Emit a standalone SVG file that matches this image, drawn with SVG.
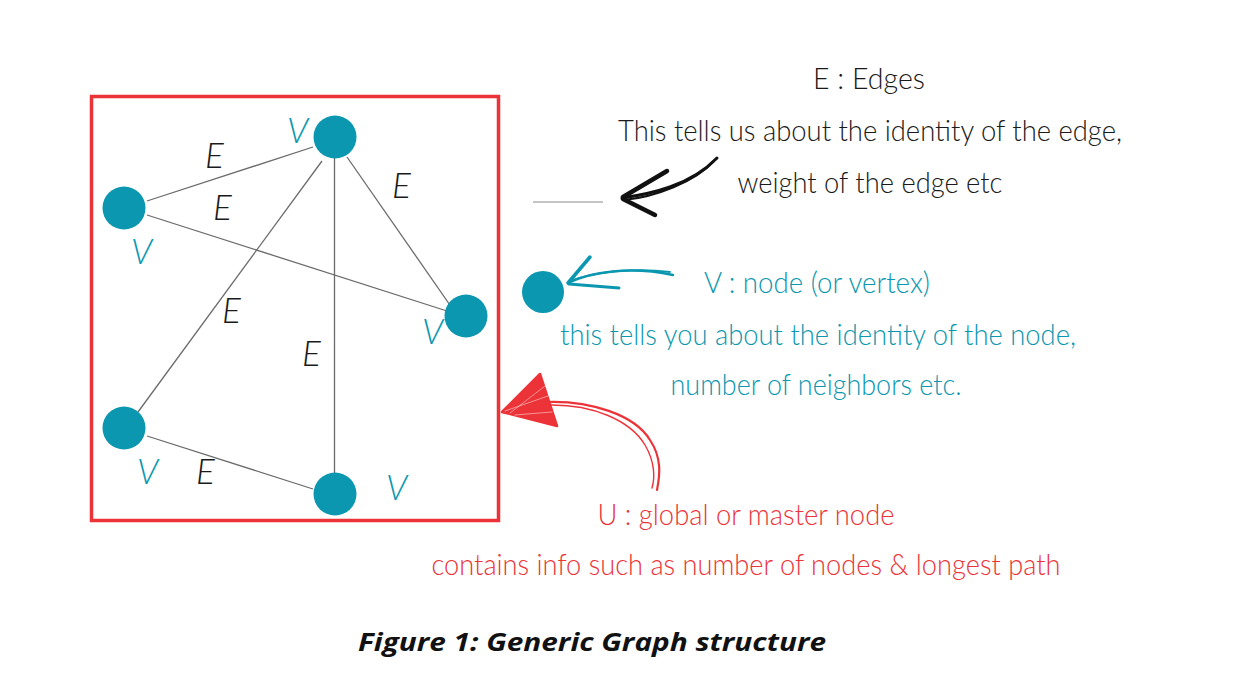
<svg xmlns="http://www.w3.org/2000/svg" width="1237" height="679" viewBox="0 0 1237 679">
<style>
.node{fill:#0b97b0}
.edge{stroke:#6b6b6b;stroke-width:1.3;fill:none}
.lbl{font-family:Lato,"Open Sans",sans-serif;font-style:italic;font-weight:300;font-size:35px}
.e{fill:#1a1a1a}
.v{fill:#0b97b0}
.hand{font-family:Lato,"Open Sans",sans-serif;font-weight:300;font-size:29px;text-anchor:middle}
.blk{fill:#1a1a1a}
.tl{fill:#0b97b0}
.rd{fill:#ec3338}
.cap{font-family:"Open Sans","Noto Sans",sans-serif;font-weight:700;font-style:italic;font-size:25px;text-anchor:middle;fill:#111}
</style>
<rect width="1237" height="679" fill="#ffffff"/>
<g id="frame">
<rect x="91.5" y="96.5" width="407" height="424" fill="none" stroke="#ec3338" stroke-width="3.5"/>
</g>
<g id="connectors">
<line class="edge" x1="313" y1="147" x2="147" y2="201"/>
<line class="edge" x1="147" y1="215" x2="447" y2="311"/>
<line class="edge" x1="347" y1="157" x2="452" y2="308"/>
<line class="edge" x1="322" y1="161" x2="138" y2="412"/>
<line class="edge" x1="334.5" y1="158" x2="334.5" y2="473"/>
<line class="edge" x1="147" y1="436" x2="313" y2="489"/>
<line x1="533" y1="202" x2="603" y2="202" stroke="#8c8c8c" stroke-width="1.2"/>
</g>
<g id="edge-labels">
<text class="lbl e" x="205" y="168">E</text>
<text class="lbl e" x="213" y="220">E</text>
<text class="lbl e" x="392" y="198">E</text>
<text class="lbl e" x="222" y="323">E</text>
<text class="lbl e" x="302" y="366">E</text>
<text class="lbl e" x="196" y="484">E</text>
</g>
<g id="node-top"><circle class="node" cx="335" cy="137" r="21.5"/><text class="lbl v" x="287" y="143">V</text></g>
<g id="node-left-top"><circle class="node" cx="124" cy="208" r="21.5"/><text class="lbl v" x="131" y="264">V</text></g>
<g id="node-right"><circle class="node" cx="466" cy="316" r="21.5"/><text class="lbl v" x="422" y="344">V</text></g>
<g id="node-left-bottom"><circle class="node" cx="124" cy="428" r="21.5"/><text class="lbl v" x="137" y="484">V</text></g>
<g id="node-bottom"><circle class="node" cx="335" cy="494" r="21.5"/><text class="lbl v" x="386" y="500">V</text></g>
<g id="legend-node"><circle class="node" cx="543" cy="292" r="21"/></g>
<g id="arrow-edge" fill="none" stroke="#111" stroke-linecap="round">
<path d="M622 198 C650 194 690 186 717 158" stroke-width="3"/>
<path d="M624 200 C655 197 695 182 714 161" stroke-width="2"/>
<path d="M623 197 L667 171" stroke-width="4.5"/>
<path d="M623 199 L655 215" stroke-width="4.5"/>
</g>
<g id="arrow-node" fill="none" stroke="#0b97b0" stroke-linecap="round">
<path d="M568 283 C590 272 630 266 673 275" stroke-width="2.5"/>
<path d="M570 281 C600 270 640 268 670 272" stroke-width="1.8"/>
<path d="M568 283 L590 257" stroke-width="3.5"/>
<path d="M569 284 L619 288" stroke-width="3"/>
</g>
<g id="arrow-global" stroke="#ec3338" stroke-linecap="round" stroke-linejoin="round">
<path d="M502 412 L540 374 L557 426 Z" fill="#ec3338" stroke-width="2.5"/>
<path d="M505 411 L548 396 M510 413 L545 386 M515 415 L552 412" fill="none" stroke="#ffffff" stroke-width="0.8" opacity="0.6"/>
<path d="M545 402 C590 400 635 415 650 440 C662 458 660 475 657 490" fill="none" stroke-width="2.2"/>
<path d="M548 405 C592 404 630 420 645 445 C655 462 655 478 652 488" fill="none" stroke-width="1.4"/>
</g>
<g id="text-edges">
<text class="hand blk" x="869" y="89" textLength="112" lengthAdjust="spacingAndGlyphs">E : Edges</text>
<text class="hand blk" x="870" y="141" textLength="504" lengthAdjust="spacingAndGlyphs">This tells us about the identity of the edge,</text>
<text class="hand blk" x="870" y="193" textLength="265" lengthAdjust="spacingAndGlyphs">weight of the edge etc</text>
</g>
<g id="text-nodes">
<text class="hand tl" x="817" y="293" textLength="226" lengthAdjust="spacingAndGlyphs">V : node (or vertex)</text>
<text class="hand tl" x="818" y="345" textLength="516" lengthAdjust="spacingAndGlyphs">this tells you about the identity of the node,</text>
<text class="hand tl" x="816" y="395" textLength="291" lengthAdjust="spacingAndGlyphs">number of neighbors etc.</text>
</g>
<g id="text-global">
<text class="hand rd" x="746" y="525" textLength="297" lengthAdjust="spacingAndGlyphs">U : global or master node</text>
<text class="hand rd" x="746" y="575" textLength="629" lengthAdjust="spacingAndGlyphs">contains info such as number of nodes &amp; longest path</text>
</g>
<g id="caption">
<text class="cap" x="592" y="651" textLength="468" lengthAdjust="spacingAndGlyphs">Figure 1: Generic Graph structure</text>
</g>
</svg>
